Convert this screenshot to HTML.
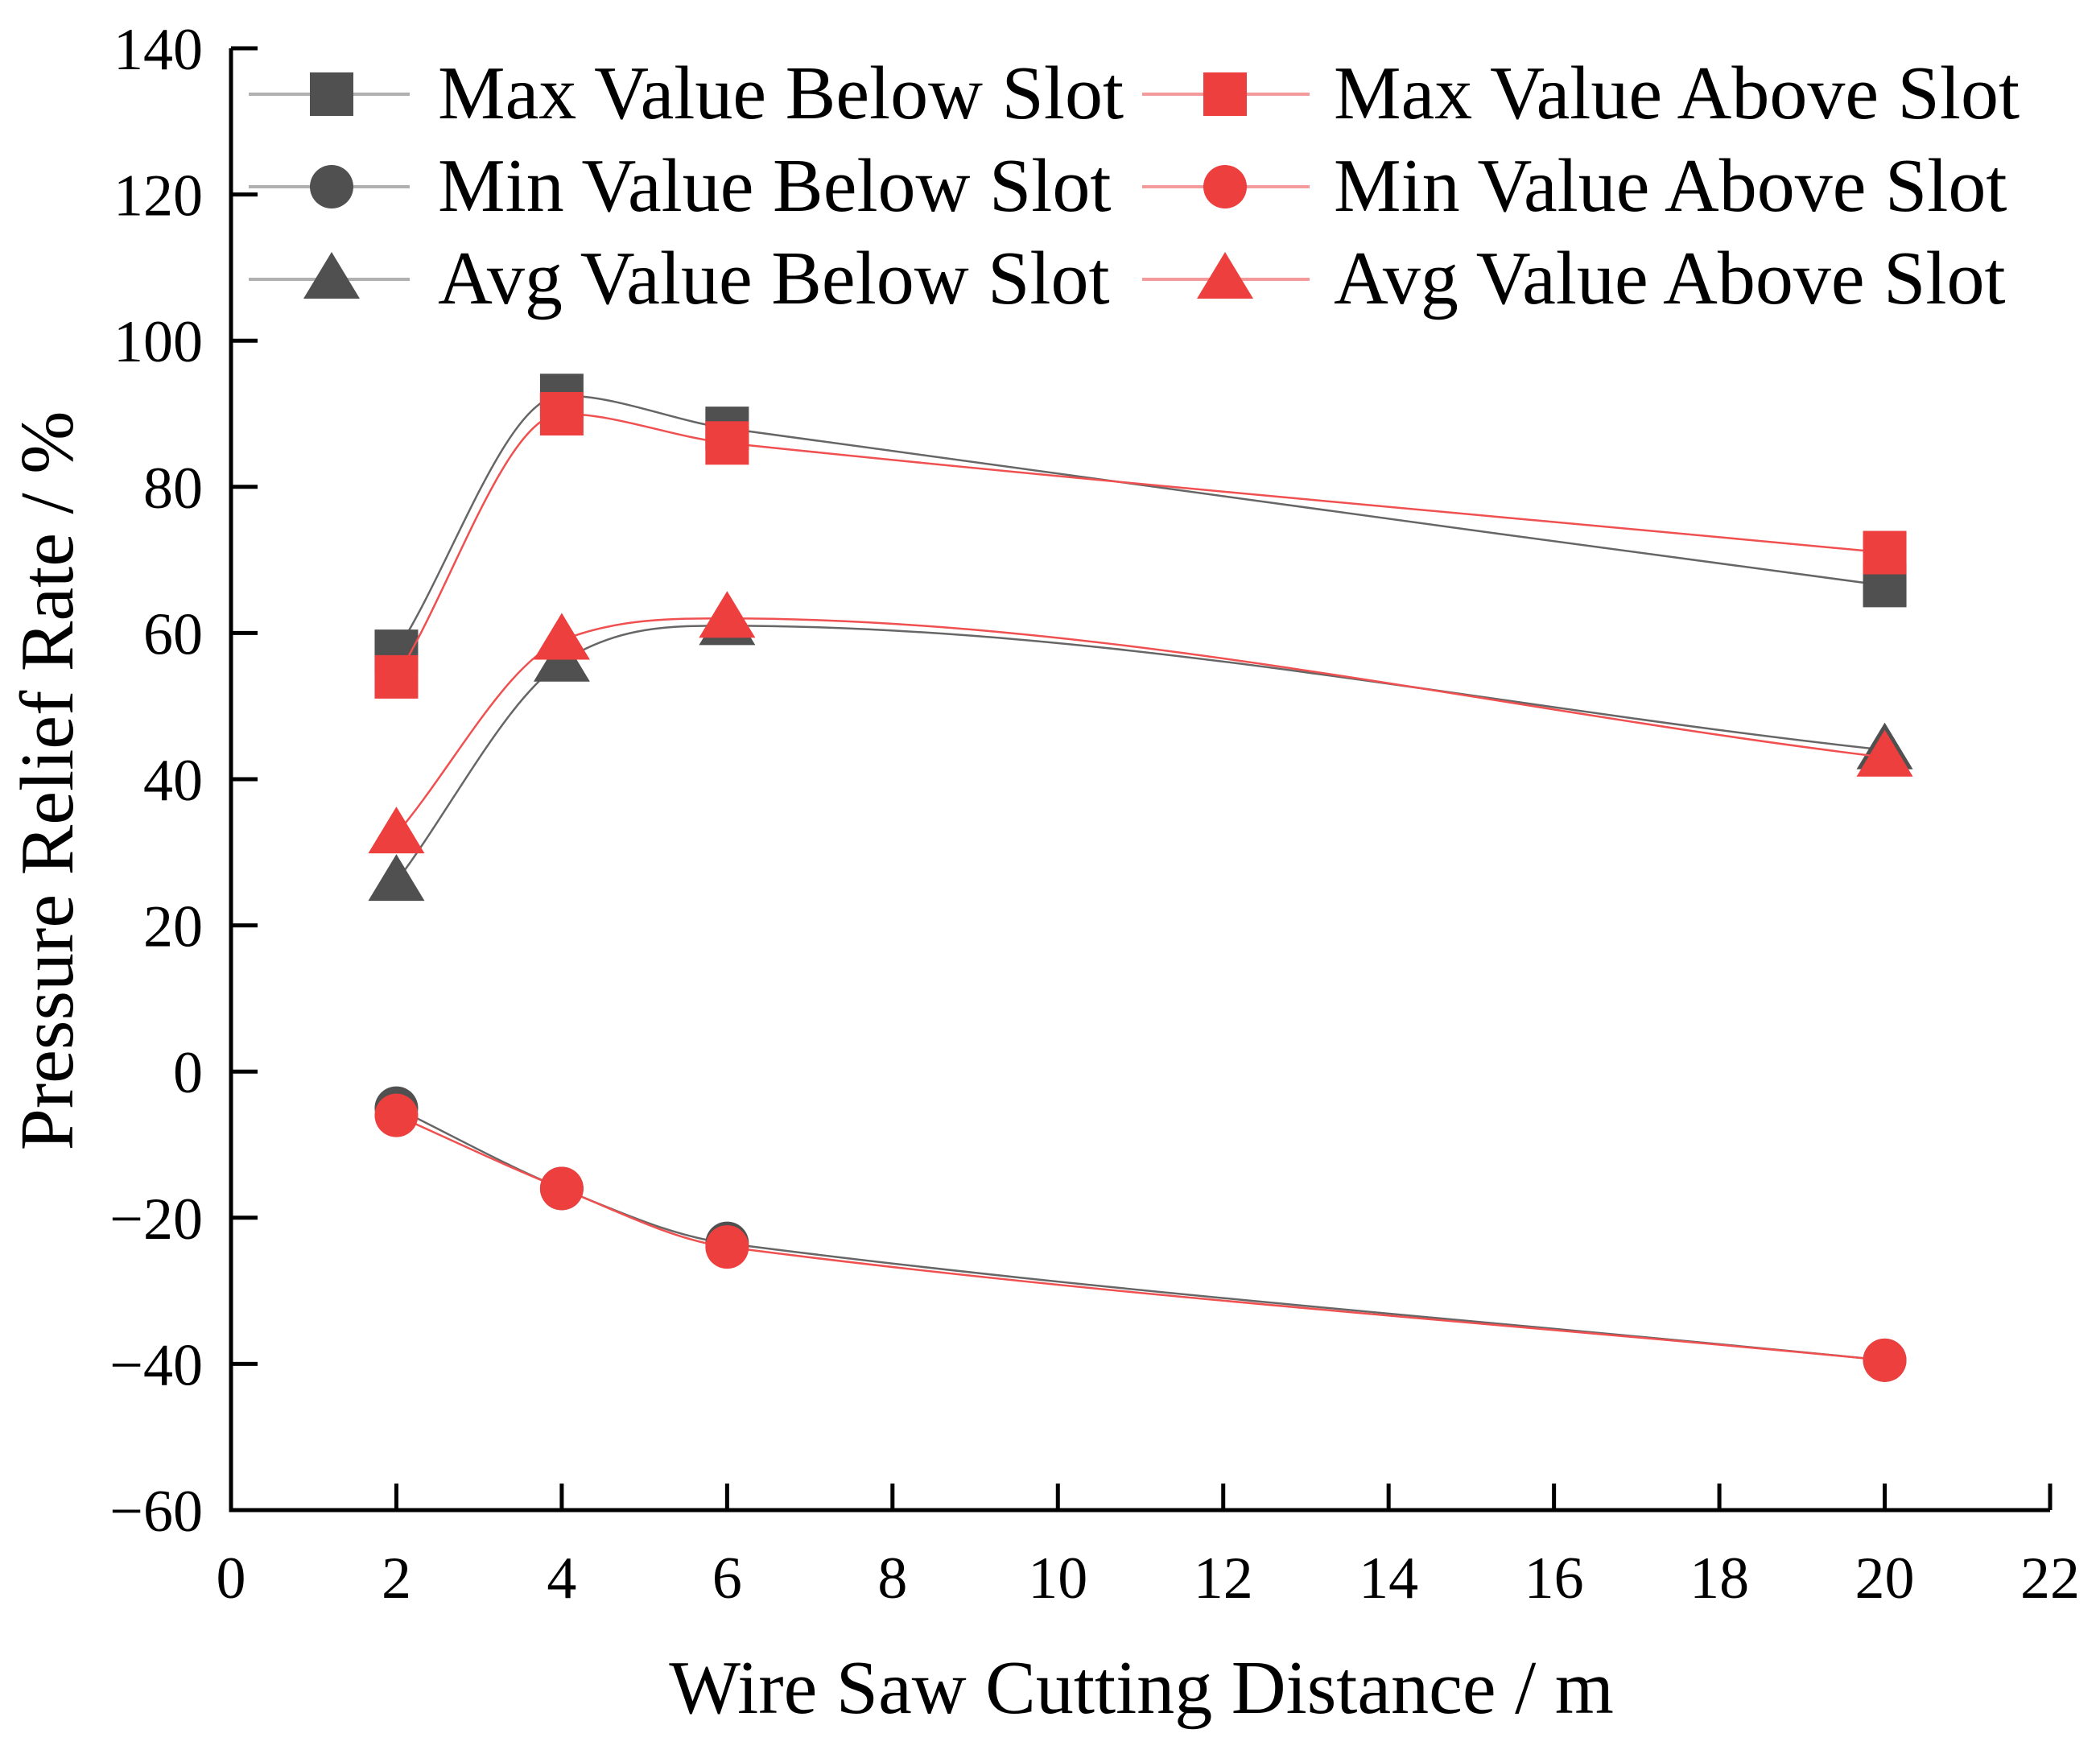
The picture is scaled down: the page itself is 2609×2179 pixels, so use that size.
<!DOCTYPE html>
<html><head><meta charset="utf-8"><style>
html,body{margin:0;padding:0;background:#fff;}
svg{display:block;font-family:"Liberation Serif",serif;}
</style></head><body>
<svg id="chart" width="2609" height="2179" viewBox="0 0 2609 2179" xmlns="http://www.w3.org/2000/svg">
<g id="axes"></g>
<g id="series"></g>
<g id="legend"></g>
<text x="1418" y="2128" font-size="94" text-anchor="middle">Wire Saw Cutting Distance / m</text>
<text transform="translate(90,970) rotate(-90)" font-size="94" text-anchor="middle">Pressure Relief Rate / %</text>
</svg>
<script>
const xValues = [2, 4, 6, 20];
const maxBelow = [57.5, 92.5, 88, 66.5];
const maxAbove = [54, 90, 86, 71];
const minBelow = [-5, -16, -23.5, -39.5];
const minAbove = [-6, -16, -24, -39.5];
const avgBelow = [26, 56, 61, 44];
const avgAbove = [32.5, 59, 62, 43];
const xTicks = [0, 2, 4, 6, 8, 10, 12, 14, 16, 18, 20, 22];
const yTicks = [-60, -40, -20, 0, 20, 40, 60, 80, 100, 120, 140];
const seriesNames = ["Max Value Below Slot","Min Value Below Slot","Avg Value Below Slot","Max Value Above Slot","Min Value Above Slot","Avg Value Above Slot"];

const L=287,R=2547,T=60,B=1876;
const X=v=>L+(v-0)/(22-0)*(R-L);
const Y=v=>B-(v+60)/200*(B-T);
const NS="http://www.w3.org/2000/svg";
function mk(tag,attrs,parent){const e=document.createElementNS(NS,tag);for(const k in attrs)e.setAttribute(k,attrs[k]);parent.appendChild(e);return e;}
const axes=document.getElementById('axes');
let e=mk('path',{d:`M${L},${T} V${B} H${R}`,fill:'none',stroke:'#000','stroke-width':5},axes);


yTicks.forEach(t=>{
  const y=Y(t);
  let l=mk('line',{x1:L,x2:L+33,y1:y,y2:y,stroke:'#000','stroke-width':5},axes);
  
  
  let tx=mk('text',{x:252,y:y+26,'font-size':74,'text-anchor':'end'},axes);
  tx.textContent=t<0?'\u2212'+(-t):String(t);
  
  
});
xTicks.forEach(t=>{
  const x=X(t);
  let l=mk('line',{x1:x,x2:x,y1:B,y2:B-33,stroke:'#000','stroke-width':5},axes);
  
  
  let tx=mk('text',{x:x,y:1985,'font-size':74,'text-anchor':'middle'},axes);
  tx.textContent=String(t);
  
  
});
function smooth(pts){
  const n=pts.length, d=[], h=[], m=[];
  for(let i=0;i<n-1;i++){ h.push(pts[i+1][0]-pts[i][0]); d.push((pts[i+1][1]-pts[i][1])/h[i]); }
  m[0]=d[0]; m[n-1]=d[n-2];
  for(let i=1;i<n-1;i++){ m[i]=(d[i-1]*d[i]<=0)?0:(h[i-1]*d[i-1]+h[i]*d[i])/(h[i-1]+h[i]); }
  for(let i=0;i<n-1;i++){
    if(d[i]===0){m[i]=0;m[i+1]=0;continue;}
    const a=m[i]/d[i],b=m[i+1]/d[i],s=a*a+b*b;
    if(s>9){const t=3/Math.sqrt(s);m[i]=t*a*d[i];m[i+1]=t*b*d[i];}
  }
  let p=`M${pts[0][0]},${pts[0][1]}`;
  for(let i=0;i<n-1;i++){
    const k=h[i]/3;
    p+=` C${pts[i][0]+k},${pts[i][1]+m[i]*k} ${pts[i+1][0]-k},${pts[i+1][1]-m[i+1]*k} ${pts[i+1][0]},${pts[i+1][1]}`;
  }
  return p;
}
function marker(kind,x,y,col,g){
  if(kind==='sq') return mk('rect',{x:x-27,y:y-27,width:54,height:54,fill:col},g);
  if(kind==='ci') return mk('circle',{cx:x,cy:y,r:27,fill:col},g);
  return mk('polygon',{points:`${x},${y-34} ${x-35},${y+24} ${x+35},${y+24}`,fill:col},g);
}
const grey='#505050',red='#ee3f3f';
const defs=[[maxBelow,'sq',grey,'#666','max-below'],[minBelow,'ci',grey,'#666','min-below'],[avgBelow,'tr',grey,'#666','avg-below'],
            [maxAbove,'sq',red,'#f05050','max-above'],[minAbove,'ci',red,'#f05050','min-above'],[avgAbove,'tr',red,'#f05050','avg-above']];
const sg=document.getElementById('series');
defs.forEach(([vals,kind,col,lc,nm])=>{
  const g=mk('g',{},sg);
  
  
  const pts=xValues.map((x,i)=>[X(x),Y(vals[i])]);
  const p=mk('path',{d:smooth(pts),fill:'none',stroke:lc,'stroke-width':2.5},g);
  
  
  pts.forEach(pt=>{
    const m=marker(kind,pt[0],pt[1],col,g);
    
    
  });
});
const lg=document.getElementById('legend');
const rows=[117,232,347];
defs.forEach(([vals,kind,col,lc,nm],i)=>{
  const colI=i<3?0:1, y=rows[i%3];
  const x0=colI?1419:309, x1=colI?1627:509, mx=colI?1522:412, txx=colI?1657:544;
  const g=mk('g',{},lg);
  
  
  mk('line',{x1:x0,x2:x1,y1:y,y2:y,stroke:colI?'#f59a9a':'#b0b0b0','stroke-width':4},g);
  marker(kind,mx,y,col,g);
  const t=mk('text',{x:txx,y:y+30,'font-size':94},g);
  t.textContent=seriesNames[i];
});
</script>
</body></html>
